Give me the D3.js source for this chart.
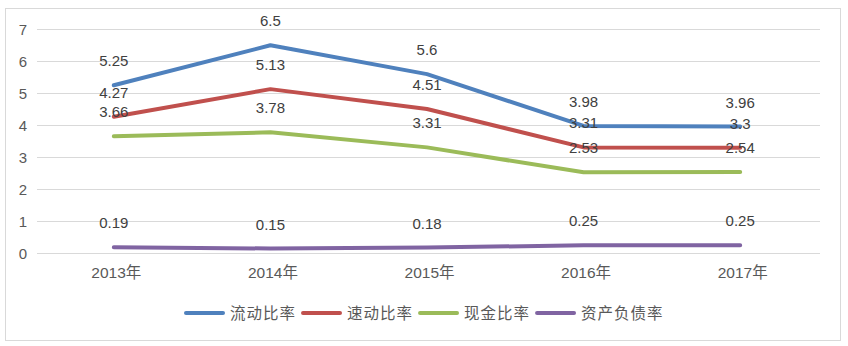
<!DOCTYPE html>
<html><head><meta charset="utf-8">
<script src="https://cdn.jsdelivr.net/npm/d3@7/dist/d3.min.js"></script>
<style>
html,body{margin:0;padding:0;background:#fff;}
svg{display:block;}
</style></head>
<body>
<svg id="chart" width="848" height="346"></svg>
<script>
const categories = ["2013年","2014年","2015年","2016年","2017年"];
const seriesNames = ["流动比率","速动比率","现金比率","资产负债率"];
const currentRatio = [5.25, 6.5, 5.6, 3.98, 3.96];
const quickRatio = [4.27, 5.13, 4.51, 3.31, 3.3];
const cashRatio = [3.66, 3.78, 3.31, 2.53, 2.54];
const debtRatio = [0.19, 0.15, 0.18, 0.25, 0.25];
const yTicks = [0,1,2,3,4,5,6,7];
const colors = ["#4F81BD","#C0504D","#9BBB59","#8064A2"];

const series = [currentRatio, quickRatio, cashRatio, debtRatio].map((vals,i)=>({name:seriesNames[i], values:vals, color:colors[i]}));

const svg = d3.select("#chart");
const font = "'Liberation Sans', Arial, sans-serif";
const cjk = "'Liberation Sans','Noto Sans CJK SC', sans-serif";

// outer border
svg.append("rect").attr("x",5.5).attr("y",8.5).attr("width",835).attr("height",332)
  .attr("fill","#fff").attr("stroke","#D9D9D9").attr("stroke-width",1);

const x = d3.scaleBand().domain(categories).range([37,820]);
const y = d3.scaleLinear().domain([0,7]).range([253.3,29.3]);

// gridlines
svg.append("g").selectAll("line").data(yTicks).join("line")
  .attr("x1",37).attr("x2",820)
  .attr("y1",d=>Math.round(y(d))+0.5).attr("y2",d=>Math.round(y(d))+0.5)
  .attr("stroke","#D9D9D9").attr("stroke-width",1);

// y axis labels
const yAxis = d3.axisLeft(y).tickValues(yTicks).tickSize(0).tickPadding(0).tickFormat(d3.format("d"));
const yg = svg.append("g").attr("transform","translate(27,0)").call(yAxis);
yg.select(".domain").remove();
yg.selectAll("text").attr("font-family",font).attr("font-size",15).attr("fill","#595959");

// x axis labels
const xAxis = d3.axisBottom(x).tickSize(0).tickPadding(0);
const xg = svg.append("g").attr("transform","translate(1,267)").call(xAxis);
xg.select(".domain").remove();
xg.selectAll("text").attr("font-family",cjk).attr("font-size",15.5).attr("fill","#595959");

const cx = c => x(c) + x.bandwidth()/2 - 1.5;

const line = d3.line().x((d,i)=>cx(categories[i])).y(d=>y(d));

svg.append("g").selectAll("path").data(series).join("path")
  .attr("d",s=>line(s.values)).attr("fill","none")
  .attr("stroke",s=>s.color).attr("stroke-width",4)
  .attr("stroke-linecap","round").attr("stroke-linejoin","round");

// data labels
const lg = svg.append("g");
series.forEach(s=>{
  lg.selectAll(null).data(s.values).join("text")
    .attr("x",(d,i)=>cx(categories[i])).attr("y",d=>y(d)-24.5)
    .attr("text-anchor","middle").attr("dominant-baseline","central")
    .attr("font-family",font).attr("font-size",15).attr("fill","#404040")
    .text(d=>String(d));
});

// legend
const leg = svg.append("g");
let lx = 184;
const ly = 313;
series.forEach(s=>{
  leg.append("line").attr("x1",lx+2).attr("x2",lx+39).attr("y1",ly).attr("y2",ly)
    .attr("stroke",s.color).attr("stroke-width",4).attr("stroke-linecap","round");
  const t = leg.append("text").attr("x",lx+46).attr("y",ly).attr("dominant-baseline","central")
    .attr("font-family",cjk).attr("font-size",15.5).attr("fill","#595959")
    .attr("letter-spacing",1)
    .text(s.name);
  const w = t.node().getComputedTextLength();
  lx = lx + 46 + w + 5;
});
</script>
</body></html>
